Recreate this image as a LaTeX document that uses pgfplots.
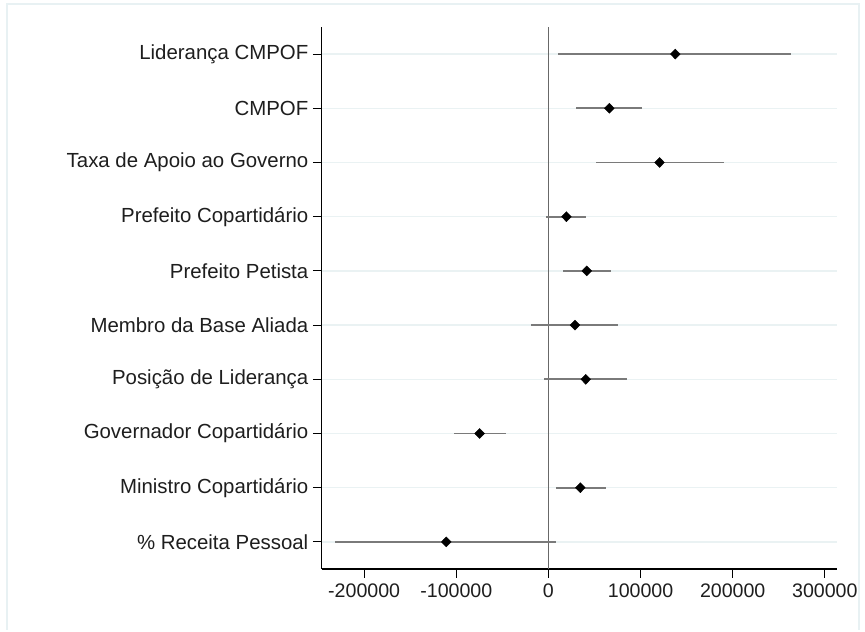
\documentclass[border=0pt]{standalone}
\usepackage{fontspec}
\setmainfont{Liberation Sans}
\usepackage{pgfplots}
\pgfplotsset{compat=1.18}

\definecolor{framecol}{HTML}{E8F1F3}
\definecolor{gridcol}{HTML}{EAF2F3}
\definecolor{cicol}{HTML}{7A7A7A}
\definecolor{txtcol}{HTML}{1E1E1E}

\begin{document}
\begin{tikzpicture}[x=1bp,y=1bp]
\fill[white] (0,0) rectangle (865,630);
\draw[framecol, line width=2.5bp] (7,0) -- (7,626) -- (859,626) -- (859,0);
\begin{axis}[
    at={(321.8bp,61bp)}, anchor=south west,
    scale only axis,
    width=515bp, height=542bp,
    xmin=-246000, xmax=313000,
    ymin=0.5, ymax=10.5,
    axis x line*=bottom, axis y line*=left,
    axis line style={black, line width=1.2bp, -},
    tick align=outside,
    major tick length=9bp,
    tick style={black, line width=1.1bp},
    scaled x ticks=false,
    xtick={-200000,-100000,0,100000,200000,300000},
    xticklabels={-200000,-100000,0,100000,200000,300000},
    ytick={1,...,10},
    yticklabels={\% Receita Pessoal, Ministro Copartidário, Governador Copartidário,
        Posição de Liderança, Membro da Base Aliada, Prefeito Petista,
        Prefeito Copartidário, Taxa de Apoio ao Governo, CMPOF, Liderança CMPOF},
    ymajorgrids=true,
    major grid style={gridcol, line width=1.5bp},
    tick label style={text=txtcol},
    xticklabel style={font=\fontsize{19.6bp}{23bp}\selectfont, yshift=-2bp},
    yticklabel style={font=\fontsize{20.4bp}{24bp}\selectfont, xshift=-1bp},
    clip=false,
]
% reference line at zero
\addplot[color=cicol!85!black, line width=1.3bp] coordinates {(0,0.5) (0,10.5)};

% confidence intervals
\addplot[only marks, mark=none,
    error bars/.cd, x dir=both, x explicit, error mark=none,
    error bar style={cicol, line width=1.9bp}]
    coordinates {
    (137700,10) += (125300,0) -= (127200,0)
    (66100,9)   += (35800,0)  -= (35700,0)
    (120600,8)  += (69700,0)  -= (69200,0)
    (19500,7)   += (21000,0)  -= (22600,0)
    (41600,6)   += (26100,0)  -= (25300,0)
    (28800,5)   += (46700,0)  -= (47500,0)
    (40500,4)   += (44300,0)  -= (45200,0)
    (-74700,3)  += (28800,0)  -= (28000,0)
    (34600,2)   += (28400,0)  -= (26800,0)
    (-110900,1) += (119500,0) -= (121000,0)
    };

% point estimates
\addplot[only marks, mark=diamond*, mark size=5bp,
    mark options={fill=black, draw=black, xscale=1.3}]
    coordinates {
    (137700,10) (66100,9) (120600,8) (19500,7) (41600,6)
    (28800,5) (40500,4) (-74700,3) (34600,2) (-110900,1)
    };
\end{axis}
\path[use as bounding box] (0,0) rectangle (865,630);
\end{tikzpicture}
\end{document}
